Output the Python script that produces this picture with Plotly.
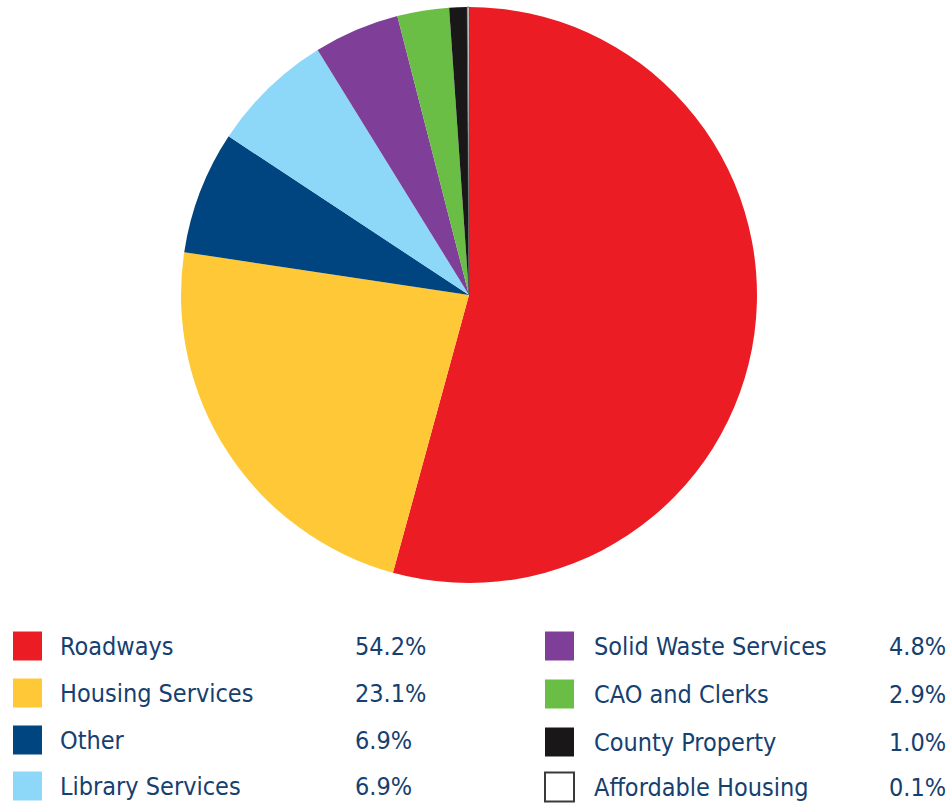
import plotly.graph_objects as go

# Budget share by service area (percent)
categories = ["Roadways", "Housing Services", "Other", "Library Services",
              "Solid Waste Services", "CAO and Clerks", "County Property",
              "Affordable Housing"]
values = [54.2, 23.1, 6.9, 6.9, 4.8, 2.9, 1.0, 0.1]
colors = ["#ec1c24", "#fec836", "#004480", "#8dd8f8",
          "#7f3f98", "#6abd45", "#1a1718", "#ffffff"]

W, H = 950, 808
text_color = "#15406f"
font_family = "Liberation Sans Narrow, DejaVu Sans Condensed, sans-serif"

def px_x(x):
    return x / W

def px_y(y):
    return 1 - y / H

# pie placement (pixel centre and radius)
cx, cy, r = 469, 295, 288

fig = go.Figure(go.Pie(
    labels=categories,
    values=values,
    sort=False,
    direction="clockwise",
    rotation=0,
    textinfo="none",
    hoverinfo="label+percent",
    marker=dict(
        colors=colors,
        line=dict(color=["rgba(0,0,0,0)"] * 7 + ["#555555"],
                  width=[0] * 7 + [0.8]),
    ),
    showlegend=False,
    domain=dict(x=[px_x(cx - r), px_x(cx + r)],
                y=[px_y(cy + r), px_y(cy - r)]),
))

# two-column legend drawn beneath the pie
columns = [
    dict(box_x=13, label_x=58, pct_x=353, rows=[646, 693, 740, 786]),
    dict(box_x=545, label_x=592, pct_x=887, rows=[646, 694, 742, 787]),
]
box = 29
shapes = []
annotations = []
for i, (name, val, col) in enumerate(zip(categories, values, colors)):
    c = columns[i // 4]
    y = c["rows"][i % 4]
    outline = "#3a3a3a" if col == "#ffffff" else col
    shapes.append(dict(
        type="rect", xref="paper", yref="paper",
        x0=px_x(c["box_x"]), x1=px_x(c["box_x"] + box),
        y0=px_y(y + box / 2), y1=px_y(y - box / 2),
        fillcolor=col, line=dict(color=outline, width=2 if col == "#ffffff" else 0),
    ))
    annotations.append(dict(
        x=px_x(c["label_x"]), y=px_y(y), xref="paper", yref="paper",
        xanchor="left", yanchor="middle", showarrow=False,
        text=name, font=dict(size=25, color=text_color, family=font_family),
    ))
    annotations.append(dict(
        x=px_x(c["pct_x"]), y=px_y(y), xref="paper", yref="paper",
        xanchor="left", yanchor="middle", showarrow=False,
        text=f"{val:.1f}%", font=dict(size=25, color=text_color, family=font_family),
    ))

fig.update_layout(
    width=W, height=H,
    margin=dict(l=0, r=0, t=0, b=0),
    paper_bgcolor="white",
    plot_bgcolor="white",
    shapes=shapes,
    annotations=annotations,
)

fig.write_html("out.html")
